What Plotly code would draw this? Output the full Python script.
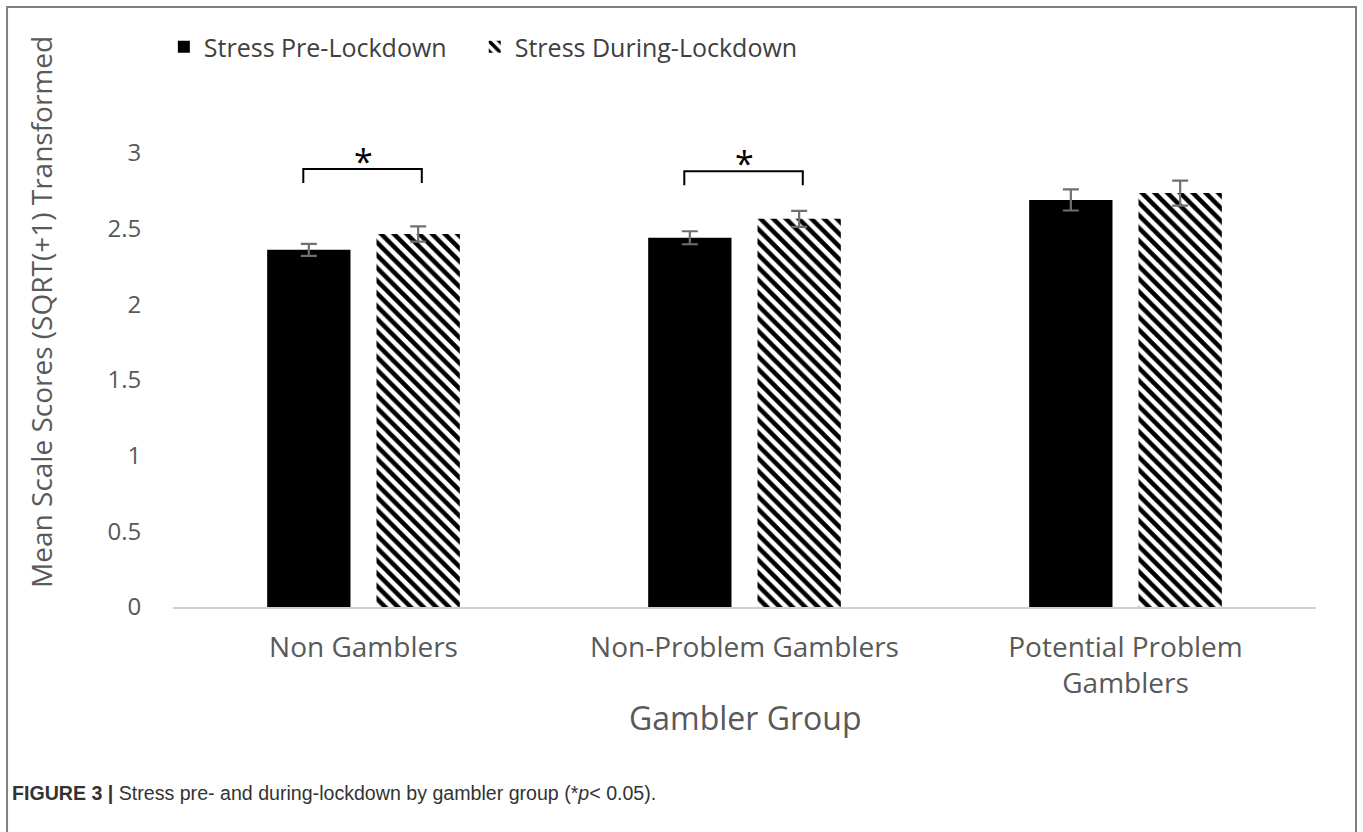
import plotly.graph_objects as go

# Gambler groups and transformed stress means with standard errors
groups = ["Non Gamblers", "Non-Problem Gamblers", "Potential Problem<br>Gamblers"]
pre_lockdown = [2.36, 2.44, 2.69]
pre_err = [0.04, 0.043, 0.07]
during_lockdown = [2.465, 2.565, 2.735]
during_err = [0.05, 0.053, 0.083]

# Groups with a significant pre/during difference (index of group)
significant = [0, 1]

y_ticks = [0, 0.5, 1, 1.5, 2, 2.5, 3]
y_ticktext = ["0", "0.5", "1", "1.5", "2", "2.5", "3"]

FONT = "Open Sans, Calibri, Carlito, sans-serif"
GREY = "#595959"

fig = go.Figure()
fig.add_trace(go.Bar(
    name="Stress Pre-Lockdown", x=groups, y=pre_lockdown, legend="legend",
    marker=dict(color="black", line=dict(width=0)),
    error_y=dict(type="data", array=pre_err, color="#6f6f6f", thickness=2.2, width=8),
))
fig.add_trace(go.Bar(
    name="Stress During-Lockdown", x=groups, y=during_lockdown, legend="legend2",
    marker=dict(color="white", line=dict(width=0),
                pattern=dict(shape="\\", fgcolor="black", bgcolor="white",
                             size=9, solidity=0.5, fillmode="replace")),
    error_y=dict(type="data", array=during_err, color="#6f6f6f", thickness=2.2, width=8),
))

shapes = []
annotations = []
# Significance brackets with asterisks
bracket_tops = [2.895, 2.88]
for i, top in zip(significant, bracket_tops):
    shapes.append(dict(
        type="path", xref="x", yref="y",
        path=f"M {i-0.158},{top-0.093} L {i-0.158},{top} L {i+0.153},{top} L {i+0.153},{top-0.093}",
        line=dict(color="black", width=2),
    ))
    annotations.append(dict(
        x=i, y=top - 0.11, xref="x", yref="y", text="*", showarrow=False,
        yanchor="bottom", font=dict(family=FONT, size=34, color="black"),
    ))

# Figure border
shapes.append(dict(type="rect", xref="paper", yref="paper",
                   x0=-0.1452, x1=1.035, y0=-0.62, y1=1.3216,
                   line=dict(color="#7f7f7f", width=2)))

# Axis titles
annotations.append(dict(
    x=-0.1155, y=0.65, xref="paper", yref="paper", xanchor="center", yanchor="middle",
    text="Mean Scale Scores (SQRT(+1) Transformed", textangle=-90, showarrow=False,
    font=dict(family=FONT, size=28, color=GREY),
))
annotations.append(dict(
    x=0.5, y=-0.244, xref="paper", yref="paper", xanchor="center", yanchor="middle",
    text="Gambler Group", showarrow=False,
    font=dict(family=FONT, size=32, color=GREY),
))
# Caption
annotations.append(dict(
    x=-0.1425, y=-0.41, xref="paper", yref="paper", xanchor="left", yanchor="middle",
    text="<b>FIGURE 3 |</b> Stress pre- and during-lockdown by gambler group (*<i>p</i>< 0.05).",
    showarrow=False, align="left",
    font=dict(family="Liberation Sans Narrow, Arial Narrow, sans-serif", size=19.6, color="#333333"),
))

legend_style = dict(orientation="h", xref="paper", y=0.9435, yref="container",
                    xanchor="left", yanchor="middle", bgcolor="rgba(0,0,0,0)",
                    font=dict(family=FONT, size=25, color="#404040"),
                    itemclick=False)

fig.update_layout(
    width=1363, height=832,
    margin=dict(l=173, r=47, t=153, b=225, autoexpand=False),
    paper_bgcolor="white", plot_bgcolor="white",
    barmode="group", bargap=0.426, bargroupgap=0.238,
    showlegend=True,
    legend=dict(x=-0.008, **legend_style),
    legend2=dict(x=0.264, **legend_style),
    shapes=shapes, annotations=annotations,
    font=dict(family=FONT, color=GREY),
)
fig.update_xaxes(showline=True, linecolor="#d0d0d0", linewidth=2,
                 tickfont=dict(family=FONT, size=28, color=GREY),
                 ticks="outside", ticklen=14, tickcolor="rgba(0,0,0,0)",
                 showgrid=False)
fig.update_yaxes(range=[0, 3], tickvals=y_ticks, ticktext=y_ticktext,
                 tickfont=dict(family=FONT, size=24, color=GREY),
                 showgrid=False, zeroline=False, showline=False,
                 ticks="outside", ticklen=26, tickcolor="rgba(0,0,0,0)")

fig.write_html("out.html")
